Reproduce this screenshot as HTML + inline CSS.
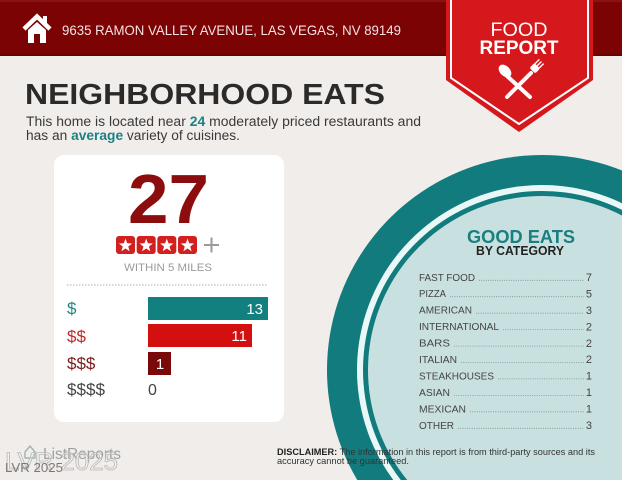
<!DOCTYPE html>
<html>
<head>
<meta charset="utf-8">
<style>
  html, body { margin: 0; padding: 0; background: #f1edea; width: 622px; height: 480px; overflow: hidden; }
  svg { display: block; }
  text { font-family: "Liberation Sans", Arial, sans-serif; }
</style>
</head>
<body>
<svg width="622" height="480" viewBox="0 0 622 480" xmlns="http://www.w3.org/2000/svg">
  <defs>
    <path id="star" d="M0,-7 L1.7,-2.35 L6.66,-2.16 L2.76,0.9 L4.11,5.66 L0,2.9 L-4.11,5.66 L-2.76,0.9 L-6.66,-2.16 L-1.7,-2.35Z" fill="#ffffff"/>
  </defs>

  <!-- background -->
  <rect x="0" y="0" width="622" height="480" fill="#f1edea"/>

  <!-- header bar -->
  <rect x="0" y="0" width="622" height="56" fill="#7b0303"/>
  <rect x="0" y="0" width="622" height="2" fill="#8a1212"/>
  <rect x="0" y="54" width="622" height="2" fill="#6a0202"/>

  <!-- house icon -->
  <polyline points="24,29 37,16.5 50,29" fill="none" stroke="#ffffff" stroke-width="4.5" stroke-linejoin="miter"/>
  <rect x="43" y="16" width="4" height="8" fill="#ffffff"/>
  <path d="M28,30 L37,22 L46,30 V43 H40 V34 H34 V43 H28 Z" fill="#ffffff"/>

  <!-- address -->
  <text x="62" y="35" font-size="14" fill="#f5e2e2" textLength="339" lengthAdjust="spacingAndGlyphs">9635 RAMON VALLEY AVENUE, LAS VEGAS, NV 89149</text>

  <!-- food report banner -->
  <polygon points="446,0 593,0 593,80 519,132 446,80" fill="#d4181b"/>
  <polyline points="451,0 451,78 519,124 588,78 588,0" fill="none" stroke="#ffffff" stroke-width="2"/>
  <text x="519" y="36" font-size="19.5" fill="#ffffff" text-anchor="middle" textLength="57" lengthAdjust="spacingAndGlyphs">FOOD</text>
  <text x="519" y="54" font-size="19.5" fill="#ffffff" text-anchor="middle" textLength="79" lengthAdjust="spacingAndGlyphs" style="font-weight:600">REPORT</text>
  <!-- spoon -->
  <line x1="507" y1="76" x2="530" y2="97" stroke="#ffffff" stroke-width="4" stroke-linecap="round"/>
  <ellipse cx="505" cy="71" rx="5" ry="7.5" transform="rotate(-45 505 71)" fill="#ffffff"/>
  <!-- fork -->
  <line x1="531" y1="73" x2="507" y2="97" stroke="#ffffff" stroke-width="4" stroke-linecap="round"/>
  <g transform="rotate(45 533 70)">
    <rect x="529" y="64" width="8" height="7" rx="2" fill="#ffffff"/>
    <line x1="530" y1="58" x2="530" y2="66" stroke="#ffffff" stroke-width="1.4"/>
    <line x1="533" y1="58" x2="533" y2="66" stroke="#ffffff" stroke-width="1.4"/>
    <line x1="536" y1="58" x2="536" y2="66" stroke="#ffffff" stroke-width="1.4"/>
  </g>

  <!-- title -->
  <text x="25" y="104" font-size="29" font-weight="bold" fill="#2a2a2a" textLength="360" lengthAdjust="spacingAndGlyphs">NEIGHBORHOOD EATS</text>
  <text x="26" y="126" font-size="13.5" fill="#3a3a3a" textLength="395" lengthAdjust="spacingAndGlyphs">This home is located near <tspan font-weight="bold" fill="#1a8282">24</tspan> moderately priced restaurants and</text>
  <text x="26" y="140" font-size="13.5" fill="#3a3a3a" textLength="214" lengthAdjust="spacingAndGlyphs">has an <tspan font-weight="bold" fill="#1a8282">average</tspan> variety of cuisines.</text>

  <!-- big circle rings (clipped to frame) -->
  <path d="M357.27,480 A215,215 0 0 1 622,170.44 L622,480 Z" fill="#117b7e"/>
  <path d="M393.25,480 A185,185 0 0 1 622,203.19 L622,480 Z" fill="#e9f8f7"/>
  <path d="M400.79,480 A179,179 0 0 1 622,209.87 L622,480 Z" fill="#117b7e"/>
  <path d="M407.18,480 A174,174 0 0 1 622,215.48 L622,480 Z" fill="#c8e0df"/>

  <!-- card -->
  <rect x="54" y="155" width="230" height="267" rx="10" fill="#ffffff"/>
  <text x="168.5" y="223" font-size="70" font-weight="bold" fill="#8b0d0d" text-anchor="middle" textLength="81" lengthAdjust="spacingAndGlyphs">27</text>

  <!-- stars -->
  <rect x="116" y="236" width="19" height="18" rx="3" fill="#d21f1f"/>
  <rect x="136.7" y="236" width="19" height="18" rx="3" fill="#d21f1f"/>
  <rect x="157.3" y="236" width="19" height="18" rx="3" fill="#d21f1f"/>
  <rect x="178" y="236" width="19" height="18" rx="3" fill="#d21f1f"/>
  <use href="#star" transform="translate(125.5 245.6)"/>
  <use href="#star" transform="translate(146.2 245.6)"/>
  <use href="#star" transform="translate(166.8 245.6)"/>
  <use href="#star" transform="translate(187.5 245.6)"/>
  <line x1="204" y1="245" x2="219" y2="245" stroke="#9a9a9a" stroke-width="2"/>
  <line x1="211.5" y1="237.5" x2="211.5" y2="252.5" stroke="#9a9a9a" stroke-width="2"/>

  <text x="168" y="271" font-size="11" fill="#9a9a9a" text-anchor="middle" textLength="88" lengthAdjust="spacingAndGlyphs">WITHIN 5 MILES</text>
  <line x1="67" y1="285" x2="268" y2="285" stroke="#b0b0b0" stroke-width="1" stroke-dasharray="1.5 1.5"/>

  <!-- bars -->
  <text x="67" y="314" font-size="17" fill="#1b8585">$</text>
  <rect x="148" y="297" width="120" height="23" fill="#138080"/>
  <text x="263" y="314" font-size="15" fill="#ffffff" text-anchor="end">13</text>

  <text x="67" y="342" font-size="17" fill="#c0282a">$$</text>
  <rect x="148" y="324" width="104" height="23" fill="#d40f0f"/>
  <text x="247" y="341" font-size="15" fill="#ffffff" text-anchor="end">11</text>

  <text x="67" y="369" font-size="17" fill="#7a1a1a">$$$</text>
  <rect x="148" y="352" width="23" height="23" fill="#7a0a0a"/>
  <text x="160" y="369" font-size="15" fill="#ffffff" text-anchor="middle">1</text>

  <text x="67" y="395" font-size="17" fill="#444444" textLength="38" lengthAdjust="spacingAndGlyphs">$$$$</text>
  <text x="148" y="395" font-size="16" fill="#444444">0</text>

  <!-- good eats -->
  <text x="521" y="243" font-size="18" font-weight="bold" fill="#1a7f80" text-anchor="middle" textLength="108" lengthAdjust="spacingAndGlyphs">GOOD EATS</text>
  <text x="520" y="255" font-size="12.5" font-weight="bold" fill="#222222" text-anchor="middle" textLength="88" lengthAdjust="spacingAndGlyphs">BY CATEGORY</text>

  <g font-size="10" fill="#444444">
    <text x="419" y="280.8" textLength="56" lengthAdjust="spacingAndGlyphs">FAST FOOD</text>
    <text x="419" y="297.2" textLength="27" lengthAdjust="spacingAndGlyphs">PIZZA</text>
    <text x="419" y="313.7" textLength="53" lengthAdjust="spacingAndGlyphs">AMERICAN</text>
    <text x="419" y="330.1" textLength="80" lengthAdjust="spacingAndGlyphs">INTERNATIONAL</text>
    <text x="419" y="346.6" textLength="31" lengthAdjust="spacingAndGlyphs">BARS</text>
    <text x="419" y="363.0" textLength="38" lengthAdjust="spacingAndGlyphs">ITALIAN</text>
    <text x="419" y="379.4" textLength="75" lengthAdjust="spacingAndGlyphs">STEAKHOUSES</text>
    <text x="419" y="395.9" textLength="31" lengthAdjust="spacingAndGlyphs">ASIAN</text>
    <text x="419" y="412.3" textLength="47" lengthAdjust="spacingAndGlyphs">MEXICAN</text>
    <text x="419" y="428.8" textLength="35" lengthAdjust="spacingAndGlyphs">OTHER</text>
  </g>
  <g font-size="11" fill="#444444" text-anchor="end">
    <text x="592" y="281">7</text>
    <text x="592" y="297.4">5</text>
    <text x="592" y="313.9">3</text>
    <text x="592" y="330.3">2</text>
    <text x="592" y="346.8">2</text>
    <text x="592" y="363.2">2</text>
    <text x="592" y="379.6">1</text>
    <text x="592" y="396.1">1</text>
    <text x="592" y="412.5">1</text>
    <text x="592" y="429">3</text>
  </g>
  <g stroke="#7a8a8a" stroke-width="0.8" stroke-dasharray="0.9 1.4">
    <line x1="479" y1="280.3" x2="584" y2="280.3"/>
    <line x1="450" y1="296.7" x2="584" y2="296.7"/>
    <line x1="476" y1="313.2" x2="584" y2="313.2"/>
    <line x1="503" y1="329.6" x2="584" y2="329.6"/>
    <line x1="454" y1="346.1" x2="584" y2="346.1"/>
    <line x1="461" y1="362.5" x2="584" y2="362.5"/>
    <line x1="498" y1="378.9" x2="584" y2="378.9"/>
    <line x1="454" y1="395.4" x2="584" y2="395.4"/>
    <line x1="470" y1="411.8" x2="584" y2="411.8"/>
    <line x1="458" y1="428.3" x2="584" y2="428.3"/>
  </g>

  <!-- disclaimer -->
  <text x="277" y="455" font-size="9.5" fill="#333333" textLength="318" lengthAdjust="spacingAndGlyphs"><tspan font-weight="bold" fill="#222222">DISCLAIMER:</tspan> The information in this report is from third-party sources and its</text>
  <text x="277" y="464" font-size="9.5" fill="#333333" textLength="132" lengthAdjust="spacingAndGlyphs">accuracy cannot be guaranteed.</text>

  <!-- listreports logo -->
  <path d="M25,452 L30,446 L35,452 V458 H25 Z" fill="none" stroke="#9fb4b4" stroke-width="1.4" stroke-linejoin="round"/>
  <text x="43" y="459" font-size="15.5" fill="#a0a0a0" textLength="78" lengthAdjust="spacingAndGlyphs">ListReports</text>

  <!-- watermark -->
  <text x="5" y="470" font-size="25" fill="rgba(255,255,255,0.25)" stroke="#b8b8b8" stroke-width="0.8" textLength="113" lengthAdjust="spacingAndGlyphs">LVR 2025</text>
  <text x="5" y="472" font-size="13" fill="#7a7a7a" textLength="58" lengthAdjust="spacingAndGlyphs">LVR 2025</text>
</svg>
</body>
</html>
